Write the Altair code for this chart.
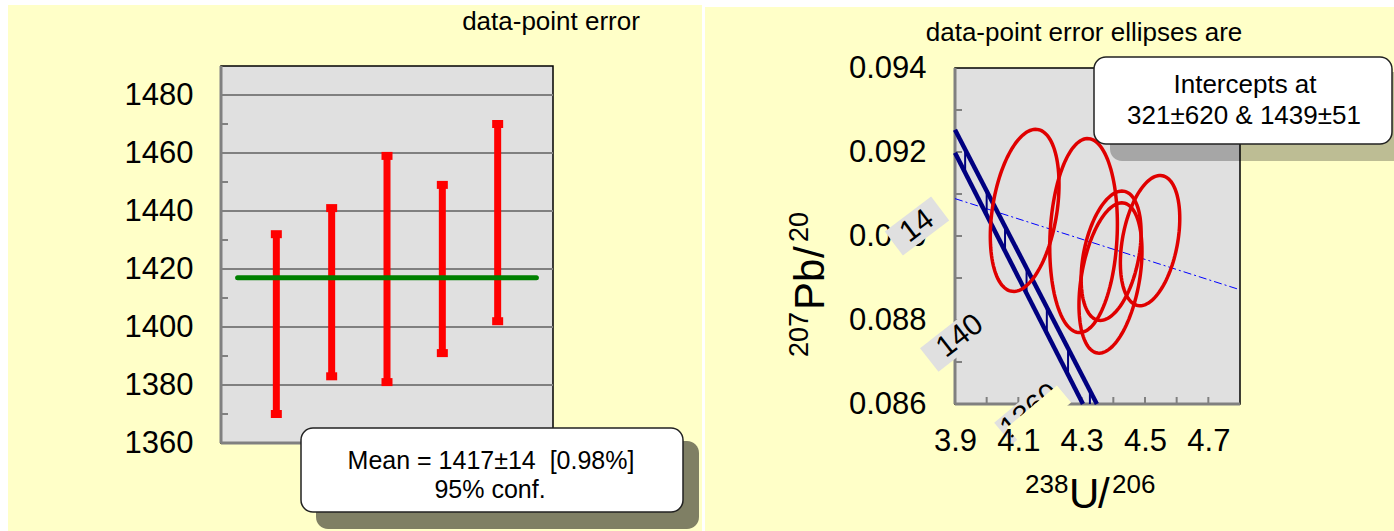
import altair as alt
import numpy as np
import pandas as pd

FONT = "Liberation Sans"
W, H = 1394, 531
YELLOW = "#ffffc8"
PLOT_BG = "#e0e0e0"
AXIS_GRAY = "#808080"

# ---------------- weighted-mean panel ----------------
spot = [1, 2, 3, 4, 5]
spot_age = [1401, 1412, 1420, 1420, 1436]
spot_err = [31, 29, 39, 29, 34]
mean_age = 1417
mean_span = [0.3, 5.7]
spot_domain = [0, 6]
age_domain = [1360, 1490]
age_labels = [1360, 1380, 1400, 1420, 1440, 1460, 1480]
age_minor = [1370, 1390, 1410, 1430, 1450, 1470]

# ---------------- concordia panel ----------------
ell_x = [4.120, 4.306, 4.393, 4.391, 4.516]
ell_sx = [0.1085, 0.1068, 0.0947, 0.0995, 0.0938]
ell_y = [0.09061, 0.09001, 0.08953, 0.08900, 0.08989]
ell_sy = [0.00193, 0.00231, 0.00154, 0.00179, 0.00155]
ell_rho = [0.32, 0.12, 0.36, 0.36, 0.34]

conc_x_lo = [3.9, 4.304]
conc_y_lo = [0.09198, 0.086]
conc_x_hi = [3.9, 4.348]
conc_y_hi = [0.09253, 0.086]
hatch_x = [3.932, 4.000, 4.058, 4.126, 4.190, 4.257, 4.326]
hatch_y_lo = [0.09151, 0.09050, 0.08964, 0.08862, 0.08768, 0.08668, 0.08600]
hatch_y_hi = [0.09207, 0.09106, 0.09021, 0.08920, 0.08827, 0.08728, 0.08627]

disc_x = [3.9, 4.8]
disc_y = [0.09089, 0.08872]

ratio_domain_x = [3.9, 4.8]
ratio_domain_y = [0.086, 0.094]
ratio_y_labels = [0.086, 0.088, 0.090, 0.092, 0.094]
ratio_y_ticks = [0.087, 0.088, 0.089, 0.090, 0.091, 0.092, 0.093]
ratio_x_labels = [3.9, 4.1, 4.3, 4.5, 4.7]
ratio_x_ticks = [4.0, 4.1, 4.2, 4.3, 4.4, 4.5, 4.6, 4.7]

title_left = "data-point error"
title_right = "data-point error ellipses are"
mean_text = ["Mean = 1417\u00b114 \u00a0[0.98%]", "95% conf."]
intercept_text = ["Intercepts at", "321\u00b1620 & 1439\u00b151"]
conc_labels = ["14", "140", "1360"]

# ---------------- layout (pixels) ----------------
L_X0, L_X1, L_Y0, L_Y1 = 221, 553, 66, 443
R_X0, R_X1, R_Y0, R_Y1 = 955, 1240, 68, 404

one = pd.DataFrame({"k": [0]})


def rect_px(x1, y1, x2, y2, **kw):
    return alt.Chart(one).mark_rect(**kw).encode(
        x=alt.value(x1), x2=alt.value(x2), y=alt.value(y1), y2=alt.value(y2))


def text_px(txt, x, y, size, **kw):
    opts = dict(font=FONT, fontSize=size, color="black", baseline="alphabetic")
    opts.update(kw)
    return alt.Chart(one).mark_text(text=txt, **opts).encode(x=alt.value(x), y=alt.value(y))


def seg_px(x1, y1, x2, y2, color, width):
    return alt.Chart(one).mark_rule(color=color, strokeWidth=width, strokeCap="butt").encode(
        x=alt.value(x1), y=alt.value(y1), x2=alt.value(x2), y2=alt.value(y2))


# ---------------- left panel scales ----------------
sx_l = alt.Scale(domain=spot_domain, range=[L_X0, L_X1], nice=False, zero=False)
sy_l = alt.Scale(domain=age_domain, range=[L_Y1, L_Y0], nice=False, zero=False)
ax_l = alt.Axis(orient="left", offset=-L_X0, values=age_labels, format="d", domain=False,
                ticks=False, grid=False, labelFont=FONT, labelFontSize=31, labelColor="black",
                labelPadding=28, labelOverlap=False, labelFlush=False, title=None)


def lx(f):
    return alt.X(f, type="quantitative", scale=sx_l, axis=None)


def ly(f):
    return alt.Y(f, type="quantitative", scale=sy_l, axis=ax_l)


frame_l = pd.DataFrame({"x0": [spot_domain[0]], "x1": [spot_domain[1]],
                        "y0": [age_domain[0]], "y1": [age_domain[1]]})
grid_l = pd.DataFrame({"age": age_labels[1:], "x0": spot_domain[0], "x1": spot_domain[1]})
minor_l = pd.DataFrame({"age": age_minor})
bars = pd.DataFrame({"spot": spot,
                     "lo": [a - e for a, e in zip(spot_age, spot_err)],
                     "hi": [a + e for a, e in zip(spot_age, spot_err)]})
caps = pd.concat([bars[["spot", "lo"]].rename(columns={"lo": "v"}),
                  bars[["spot", "hi"]].rename(columns={"hi": "v"})])
mean_df = pd.DataFrame({"x0": [mean_span[0]], "x1": [mean_span[1]], "m": [mean_age]})

left = alt.layer(
    alt.Chart(frame_l).mark_rect(fill=PLOT_BG, stroke="black", strokeWidth=1.5).encode(
        x=lx("x0"), x2="x1", y=ly("y0"), y2="y1"),
    alt.Chart(grid_l).mark_rule(color=AXIS_GRAY, strokeWidth=2).encode(
        x=lx("x0"), x2="x1", y=ly("age")),
    alt.Chart(minor_l).mark_rule(color=AXIS_GRAY, strokeWidth=2).encode(
        x=alt.value(L_X0), x2=alt.value(L_X0 + 7), y=ly("age")),
    alt.Chart(frame_l).mark_rule(color=AXIS_GRAY, strokeWidth=3).encode(
        x=lx("x0"), y=ly("y0"), y2="y1"),
    alt.Chart(frame_l).mark_rule(color=AXIS_GRAY, strokeWidth=3).encode(
        x=lx("x0"), x2="x1", y=ly("y0")),
    alt.Chart(bars).mark_rule(color="#ff0000", strokeWidth=7, strokeCap="butt").encode(
        x=lx("spot"), y=ly("lo"), y2="hi"),
    alt.Chart(caps).mark_tick(color="#ff0000", orient="horizontal", thickness=8, size=11,
                              opacity=1).encode(x=lx("spot"), y=ly("v")),
    alt.Chart(mean_df).mark_rule(color="#008000", strokeWidth=5, strokeCap="round").encode(
        x=lx("x0"), x2="x1", y=ly("m")),
)

# ---------------- right panel scales ----------------
sx_r = alt.Scale(domain=ratio_domain_x, range=[R_X0, R_X1], nice=False, zero=False)
sy_r = alt.Scale(domain=ratio_domain_y, range=[R_Y1, R_Y0], nice=False, zero=False)
ax_rx = alt.Axis(orient="bottom", offset=R_Y1 - H, values=ratio_x_labels, format=".1f",
                 domain=False, ticks=False, grid=False, labelFont=FONT, labelFontSize=31,
                 labelColor="black", labelPadding=22, labelOverlap=False, labelFlush=False,
                 title=None, zindex=1)
ax_ry = alt.Axis(orient="left", offset=-R_X0, values=ratio_y_labels, format=".3f",
                 domain=False, ticks=False, grid=False, labelFont=FONT, labelFontSize=31,
                 labelColor="black", labelPadding=29, labelOverlap=False, labelFlush=False,
                 title=None)


def rx(f):
    return alt.X(f, type="quantitative", scale=sx_r, axis=ax_rx)


def ry(f):
    return alt.Y(f, type="quantitative", scale=sy_r, axis=ax_ry)


frame_r = pd.DataFrame({"x0": [ratio_domain_x[0]], "x1": [ratio_domain_x[1]],
                        "y0": [ratio_domain_y[0]], "y1": [ratio_domain_y[1]]})
yt_r = pd.DataFrame({"v": ratio_y_ticks})
xt_r = pd.DataFrame({"v": ratio_x_ticks})
conc = pd.DataFrame({"x": conc_x_lo + conc_x_hi, "y": conc_y_lo + conc_y_hi,
                     "side": ["lo", "lo", "hi", "hi"], "o": [0, 1, 0, 1]})
hatch = pd.DataFrame({"x": hatch_x, "lo": hatch_y_lo, "hi": hatch_y_hi})
disc = pd.DataFrame({"x": disc_x, "y": disc_y})

# error ellipses from centre, 2-sigma half widths and error correlation
t = np.linspace(0, 2 * np.pi, 121)
rows = []
for i in range(len(ell_x)):
    r = ell_rho[i]
    ex = ell_x[i] + ell_sx[i] * np.cos(t)
    ey = ell_y[i] + ell_sy[i] * (r * np.cos(t) + np.sqrt(1 - r * r) * np.sin(t))
    rows.append(pd.DataFrame({"id": i, "step": np.arange(len(t)), "x": ex, "y": ey}))
ell = pd.concat(rows)


def rotated_label(txt, cx, cy, angle, box_len, box_w, size=30):
    a = np.deg2rad(angle)
    dx, dy = np.cos(a) * box_len / 2, -np.sin(a) * box_len / 2
    return [seg_px(cx - dx, cy - dy, cx + dx, cy + dy, PLOT_BG, box_w),
            text_px(txt, cx, cy, size, angle=360 - angle, align="center", baseline="middle")]


lab1 = rotated_label(conc_labels[0], 917, 226, 37, 58, 30)
lab2 = rotated_label(conc_labels[1], 960, 336, 38, 78, 30)
lab3 = rotated_label(conc_labels[2], 1030, 411, 40, 70, 28)

right = alt.layer(
    alt.Chart(frame_r).mark_rect(fill=PLOT_BG, stroke="black", strokeWidth=1.5).encode(
        x=rx("x0"), x2="x1", y=ry("y0"), y2="y1"),
    alt.Chart(yt_r).mark_rule(color=AXIS_GRAY, strokeWidth=2).encode(
        x=alt.value(R_X0), x2=alt.value(R_X0 + 7), y=ry("v")),
    alt.Chart(xt_r).mark_rule(color=AXIS_GRAY, strokeWidth=2).encode(
        x=rx("v"), y=alt.value(R_Y1), y2=alt.value(R_Y1 - 7)),
    alt.Chart(frame_r).mark_rule(color=AXIS_GRAY, strokeWidth=3).encode(
        x=rx("x0"), y=ry("y0"), y2="y1"),
    alt.Chart(frame_r).mark_rule(color=AXIS_GRAY, strokeWidth=3).encode(
        x=rx("x0"), x2="x1", y=ry("y0")),
    alt.Chart(disc).mark_line(color="#0000ff", strokeWidth=1, strokeDash=[8, 3, 2, 3]).encode(
        x=rx("x"), y=ry("y")),
    alt.Chart(conc).mark_line(color="#000080", strokeWidth=4.5, strokeCap="butt").encode(
        x=rx("x"), y=ry("y"), detail="side:N", order="o:Q"),
    alt.Chart(hatch).mark_rule(color="#000080", strokeWidth=2).encode(
        x=rx("x"), y=ry("lo"), y2="hi"),
    alt.Chart(ell).mark_line(color="#e00000", strokeWidth=3.5).encode(
        x=rx("x"), y=ry("y"), detail="id:N", order="step:Q"),
    *lab1, *lab2, *lab3,
    # the lower half of the last age label sits under the panel fill
    seg_px(1014, 436, 1064, 394, YELLOW, 22),
)

# ---------------- frame, boxes and titles ----------------
white_edges = alt.layer(
    rect_px(0, 0, W, 5, fill="white"),
    rect_px(705, 0, W, 7, fill="white"),
    rect_px(0, 0, 8, H, fill="white"),
    rect_px(702, 0, 705, H, fill="white"),
)

notes = alt.layer(
    text_px(title_left, 551, 30, 26, align="center"),
    text_px(title_right, 1084, 41, 26, align="center"),
    rect_px(316, 441, 699, 529, fill="black", opacity=0.5, cornerRadius=12),
    rect_px(301, 428, 683, 512, fill="white", stroke="#222222", strokeWidth=1.5, cornerRadius=12),
    text_px(mean_text[0], 491, 469, 25, align="center"),
    text_px(mean_text[1], 490, 498, 25, align="center"),
    rect_px(1110, 72, 1410, 161, fill="black", opacity=0.26, cornerRadius=12),
    rect_px(1094, 57, 1392, 144, fill="white", stroke="#222222", strokeWidth=1.5, cornerRadius=12),
    text_px(intercept_text[0], 1245, 93, 26, align="center"),
    text_px(intercept_text[1], 1244, 124, 26, align="center"),
    # x-axis title: 238U/206
    text_px("238", 1025, 493, 26, align="left"),
    text_px("U", 1069, 508, 42, align="left"),
    text_px("/", 1098, 508, 42, align="left"),
    text_px("206", 1112, 493, 26, align="left"),
    # y-axis title: 207Pb/20 (reading upward)
    text_px("207", 808, 357, 27, align="left", angle=270),
    text_px("Pb", 824, 310, 42, align="left", angle=270),
    text_px("/", 824, 258, 42, align="left", angle=270),
    text_px("20", 808, 242, 27, align="left", angle=270),
)

chart = alt.layer(white_edges, left, right, notes).resolve_scale(
    x="independent", y="independent"
).properties(
    width=W, height=H, padding=0, autosize="none", background=YELLOW
).configure_view(strokeWidth=0)

chart.save("out.html", embed_options={"renderer": "svg", "actions": False})
